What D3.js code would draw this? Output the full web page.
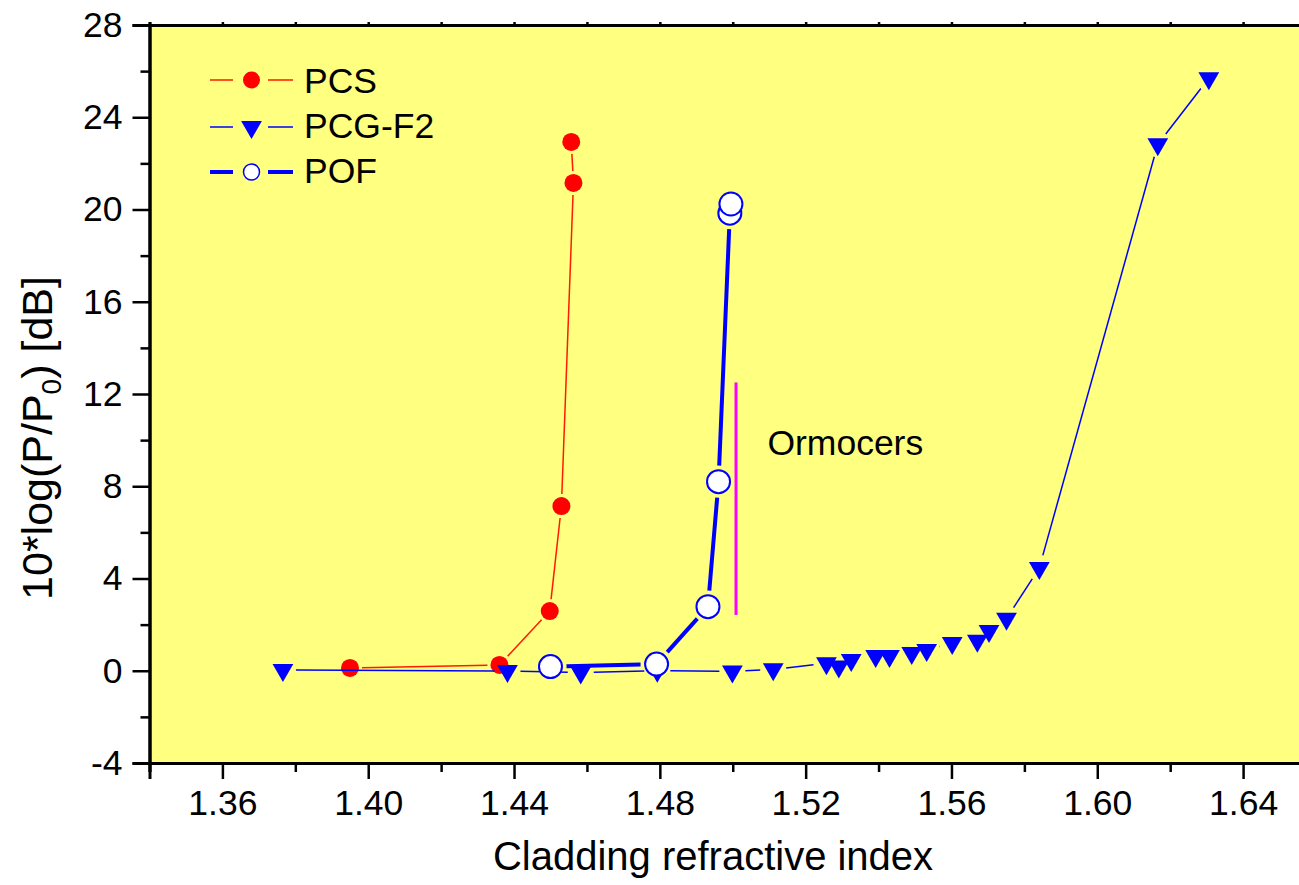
<!DOCTYPE html>
<html>
<head>
<meta charset="utf-8">
<script src="https://cdn.jsdelivr.net/npm/d3@7/dist/d3.min.js"></script>
<style>
  body { margin: 0; background: #fff; }
  svg { display: block; font-family: "Liberation Sans", Arial, sans-serif; }
</style>
</head>
<body>
<div class="chart"></div>
<script>
// data
var pcsIndex = [1.395, 1.436, 1.4498, 1.453, 1.4563, 1.4557];
var pcsLoss  = [0.12, 0.25, 2.59, 7.14, 21.15, 22.93];

var pcgIndex = [1.3766, 1.4382, 1.4583, 1.4793, 1.4999, 1.5111, 1.5257, 1.5291, 1.5325,
                1.5392, 1.5430, 1.5491, 1.5532, 1.5602, 1.5671, 1.5703, 1.5751, 1.5841,
                1.6166, 1.6306];
var pcgLoss  = [0.03, -0.01, -0.08, 0.0, -0.03, 0.06, 0.32, 0.18, 0.47,
                0.64, 0.64, 0.77, 0.9, 1.2, 1.3, 1.72, 2.26, 4.46,
                22.83, 25.69];

var pofIndex = [1.4500, 1.4791, 1.4932, 1.4961, 1.4992, 1.4995];
var pofLoss  = [0.18, 0.29, 2.78, 8.2, 19.84, 20.24];

var ormocerIndex = 1.5009;
var ormocerRange = [2.42, 12.5];

var xMajor = [1.36, 1.40, 1.44, 1.48, 1.52, 1.56, 1.60, 1.64];
var xMinor = [1.34, 1.38, 1.42, 1.46, 1.50, 1.54, 1.58, 1.62, 1.66];
var yMajor = [-4, 0, 4, 8, 12, 16, 20, 24, 28];
var yMinor = [-2, 2, 6, 10, 14, 18, 22, 26];

var svgWidth = 1299;
var svgHeight = 885;
var plot = { left: 149.5, right: 1316, top: 25, bottom: 763 };

var svg = d3.select(".chart").append("svg")
  .attr("width", svgWidth)
  .attr("height", svgHeight);

var x = d3.scaleLinear().domain([1.34, 1.66]).range([plot.left, plot.right]);
var y = d3.scaleLinear().domain([-4, 28]).range([plot.bottom, plot.top]);

// yellow plot background
svg.append("rect")
  .attr("x", plot.left).attr("y", plot.top)
  .attr("width", plot.right - plot.left).attr("height", plot.bottom - plot.top)
  .attr("fill", "#ffff80");

// line pieces with a gap round every marker, like Origin does
function gappedSegments(xs, ys, gap) {
  var segs = [];
  for (var i = 0; i < xs.length - 1; i++) {
    var x1 = x(xs[i]), y1 = y(ys[i]), x2 = x(xs[i + 1]), y2 = y(ys[i + 1]);
    var dx = x2 - x1, dy = y2 - y1, len = Math.sqrt(dx * dx + dy * dy);
    if (len <= 2 * gap) continue;
    var ux = dx / len, uy = dy / len;
    segs.push({ x1: x1 + ux * gap, y1: y1 + uy * gap, x2: x2 - ux * gap, y2: y2 - uy * gap });
  }
  return segs;
}

function drawSegments(segs, color, width) {
  svg.append("g").selectAll("line")
    .data(segs)
    .enter()
    .append("line")
    .attr("x1", function(d) { return d.x1; })
    .attr("y1", function(d) { return d.y1; })
    .attr("x2", function(d) { return d.x2; })
    .attr("y2", function(d) { return d.y2; })
    .attr("stroke", color)
    .attr("stroke-width", width)
    .attr("stroke-linecap", "butt");
}

var triangle = d3.symbol().type(d3.symbolTriangle).size(187);

// PCS
drawSegments(gappedSegments(pcsIndex, pcsLoss, 12), "#ff1a00", 1.5);
svg.append("g").selectAll("circle")
  .data(d3.range(pcsIndex.length))
  .enter()
  .append("circle")
  .attr("cx", function(i) { return x(pcsIndex[i]); })
  .attr("cy", function(i) { return y(pcsLoss[i]); })
  .attr("r", 9)
  .attr("fill", "#ff0000");

// PCG-F2
drawSegments(gappedSegments(pcgIndex, pcgLoss, 13), "#0000ff", 1.5);
svg.append("g").selectAll("path")
  .data(d3.range(pcgIndex.length))
  .enter()
  .append("path")
  .attr("d", triangle)
  .attr("transform", function(i) {
    return "translate(" + x(pcgIndex[i]) + "," + y(pcgLoss[i]) + ") rotate(180)";
  })
  .attr("fill", "#0000ff");

// POF
drawSegments(gappedSegments(pofIndex, pofLoss, 16), "#0000ff", 4);
svg.append("g").selectAll("circle")
  .data(d3.range(pofIndex.length))
  .enter()
  .append("circle")
  .attr("cx", function(i) { return x(pofIndex[i]); })
  .attr("cy", function(i) { return y(pofLoss[i]); })
  .attr("r", 11.5)
  .attr("fill", "#ffffff")
  .attr("stroke", "#0000ff")
  .attr("stroke-width", 2);

// Ormocers bar + label
svg.append("line")
  .attr("x1", x(ormocerIndex)).attr("x2", x(ormocerIndex))
  .attr("y1", y(ormocerRange[0])).attr("y2", y(ormocerRange[1]))
  .attr("stroke", "#ff00ff")
  .attr("stroke-width", 3);

svg.append("text")
  .attr("x", x(1.5095))
  .attr("y", y(9.35))
  .style("font-size", "35.5px")
  .text("Ormocers");

// legend
var legend = [
  { name: "PCS", y: 80, base: 93, kind: "dot" },
  { name: "PCG-F2", y: 127, base: 138, kind: "tri" },
  { name: "POF", y: 172, base: 183, kind: "open" }
];
legend.forEach(function(d) {
  var color = d.kind === "dot" ? "#ff1a00" : "#0000ff";
  var w = d.kind === "open" ? 4 : 1.5;
  svg.append("line").attr("x1", 210).attr("x2", 233).attr("y1", d.y).attr("y2", d.y)
    .attr("stroke", color).attr("stroke-width", w);
  svg.append("line").attr("x1", 268).attr("x2", 293).attr("y1", d.y).attr("y2", d.y)
    .attr("stroke", color).attr("stroke-width", w);
  if (d.kind === "dot") {
    svg.append("circle").attr("cx", 251.5).attr("cy", d.y).attr("r", 8.5).attr("fill", "#ff0000");
  } else if (d.kind === "tri") {
    svg.append("path").attr("d", triangle)
      .attr("transform", "translate(251.5," + d.y + ") rotate(180)")
      .attr("fill", "#0000ff");
  } else {
    svg.append("circle").attr("cx", 251.5).attr("cy", d.y).attr("r", 8)
      .attr("fill", "#ffffff").attr("stroke", "#0000ff").attr("stroke-width", 1.5);
  }
  svg.append("text").attr("x", 304).attr("y", d.base)
    .style("font-size", "35.5px")
    .text(d.name);
});

// axes
var bottomMajor = d3.axisBottom(x).tickValues(xMajor).tickSize(16).tickPadding(11)
  .tickFormat(d3.format(".2f"));
var bottomMinor = d3.axisBottom(x).tickValues(xMinor).tickSize(9).tickFormat("");
var leftMajor = d3.axisLeft(y).tickValues(yMajor).tickSize(17).tickPadding(10)
  .tickFormat(function(d) { return String(d); });
var leftMinor = d3.axisLeft(y).tickValues(yMinor).tickSize(9).tickFormat("");
var topTicks = d3.axisTop(x).tickValues(xMajor.concat(xMinor)).tickSize(3).tickFormat("");

function styleAxis(g) {
  g.select(".domain").attr("stroke-width", 3).attr("stroke", "#000");
  g.selectAll(".tick line").attr("stroke-width", 2.5).attr("stroke", "#000");
  g.selectAll(".tick text").style("font-size", "35.5px").attr("fill", "#000")
    .style("font-family", "'Liberation Sans', Arial, sans-serif");
}

svg.append("g").attr("transform", "translate(0," + plot.bottom + ")").call(bottomMinor).call(styleAxis);
svg.append("g").attr("transform", "translate(0," + plot.bottom + ")").call(bottomMajor).call(styleAxis);
svg.append("g").attr("transform", "translate(0," + plot.top + ")").call(topTicks).call(styleAxis);
svg.append("g").attr("transform", "translate(" + plot.left + ",0)").call(leftMinor).call(styleAxis);
svg.append("g").attr("transform", "translate(" + plot.left + ",0)").call(leftMajor).call(styleAxis);

// axis titles
svg.append("text")
  .attr("x", 713)
  .attr("y", 870)
  .style("text-anchor", "middle")
  .style("font-size", "40px")
  .text("Cladding refractive index");

var yTitle = svg.append("text")
  .attr("transform", "translate(52,438) rotate(-90)")
  .style("text-anchor", "middle")
  .style("font-size", "43px");
yTitle.append("tspan").text("10*log(P/P");
yTitle.append("tspan").attr("dy", 9).style("font-size", "28px").text("0");
yTitle.append("tspan").attr("dy", -9).text(") [dB]");
</script>
</body>
</html>
